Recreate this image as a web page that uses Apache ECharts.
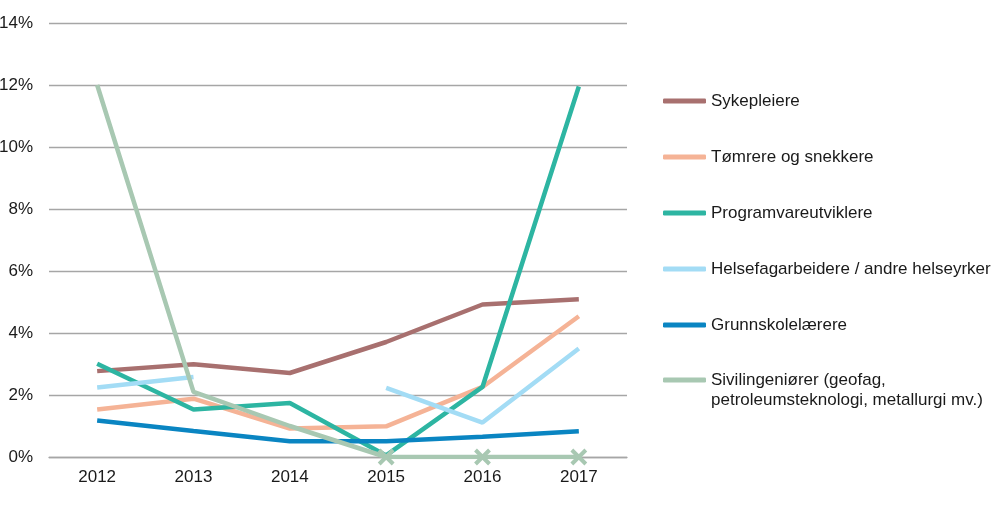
<!DOCTYPE html>
<html><head><meta charset="utf-8">
<script src="https://cdn.jsdelivr.net/npm/echarts@6/dist/echarts.min.js"></script>
<style>html,body{margin:0;padding:0;background:#fff}#c{width:1000px;height:505px}</style>
</head><body><div id="c"></div>
<script>
const years = ['2012','2013','2014','2015','2016','2017'];
const seriesNames = ['Sykepleiere','Tømrere og snekkere','Programvareutviklere','Helsefagarbeidere / andre helseyrker','Grunnskolelærere','Sivilingeniører (geofag,\npetroleumsteknologi, metallurgi mv.)'];
const sykepleiere = [2.77, 2.99, 2.71, 3.71, 4.92, 5.09];
const tomrere = [1.53, 1.88, 0.92, 0.99, 2.26, 4.54];
const programvare = [3.01, 1.53, 1.74, 0.05, 2.26, 11.95];
const helsefag = [2.24, 2.58, null, 2.23, 1.11, 3.50];
const grunnskole = [1.18, 0.84, 0.51, 0.51, 0.65, 0.83];
const sivilingenior = [12.0, 2.10, 1.00, 0, 0, 0];
const yTicks = [0, 2, 4, 6, 8, 10, 12, 14];
const colors = ['#a8706f','#f5b396','#2db5a2','#a3dcf5','#0a85c2','#a8c8b2'];

const font = 'Liberation Sans, Arial, sans-serif';
const xPath = 'path://M0,0 L10,10 M10,0 L0,10';
const allData = [sykepleiere, tomrere, programvare, helsefag, grunnskole, sivilingenior];

const series = allData.map((arr, i) => ({
  name: seriesNames[i],
  type: 'line',
  data: arr.map(v => {
    if (i === 5 && v === 0) {
      return {value: v, symbol: xPath, symbolSize: 14,
        itemStyle: {color: colors[i], borderColor: colors[i], borderWidth: 4}};
    }
    return v;
  }),
  symbol: 'none',
  lineStyle: {width: 4.5, color: colors[i]},
  itemStyle: {color: colors[i]},
  emphasis: {disabled: true},
  z: 2 + i
}));

const legendCommon = {
  orient: 'vertical',
  left: 663,
  padding: 0,
  itemWidth: 43, itemHeight: 5, itemGap: 36,
  icon: 'roundRect',
  selectedMode: false,
  textStyle: {fontFamily: font, fontSize: 17, color: '#1a1a1a', lineHeight: 20}
};

const chart = echarts.init(document.getElementById('c'), null, {renderer: 'canvas'});
chart.setOption({
  animation: false,
  color: colors,
  grid: {left: 49, right: 373, top: 23, bottom: 48, containLabel: false, outerBoundsMode: 'none'},
  legend: [
    Object.assign({}, legendCommon, {top: 91, data: seriesNames.slice(0, 5)}),
    Object.assign({}, legendCommon, {top: 350, data: [{name: seriesNames[5], textStyle: {padding: [20, 0, 0, 0], rich: {a: {}}}}]})
  ],
  xAxis: {
    type: 'category', data: years, boundaryGap: true,
    axisLine: {show: true, lineStyle: {color: '#a6a6a6', width: 1.3}},
    axisTick: {show: false},
    axisLabel: {fontFamily: font, fontSize: 17, color: '#1a1a1a', margin: 12}
  },
  yAxis: {
    type: 'value', min: yTicks[0], max: yTicks[yTicks.length - 1], interval: 2,
    axisLine: {show: false}, axisTick: {show: false},
    splitLine: {lineStyle: {color: '#a6a6a6', width: 1.3}},
    axisLabel: {fontFamily: font, fontSize: 17, color: '#1a1a1a', margin: 16, formatter: '{value}%'}
  },
  series: series
});
</script></body></html>
